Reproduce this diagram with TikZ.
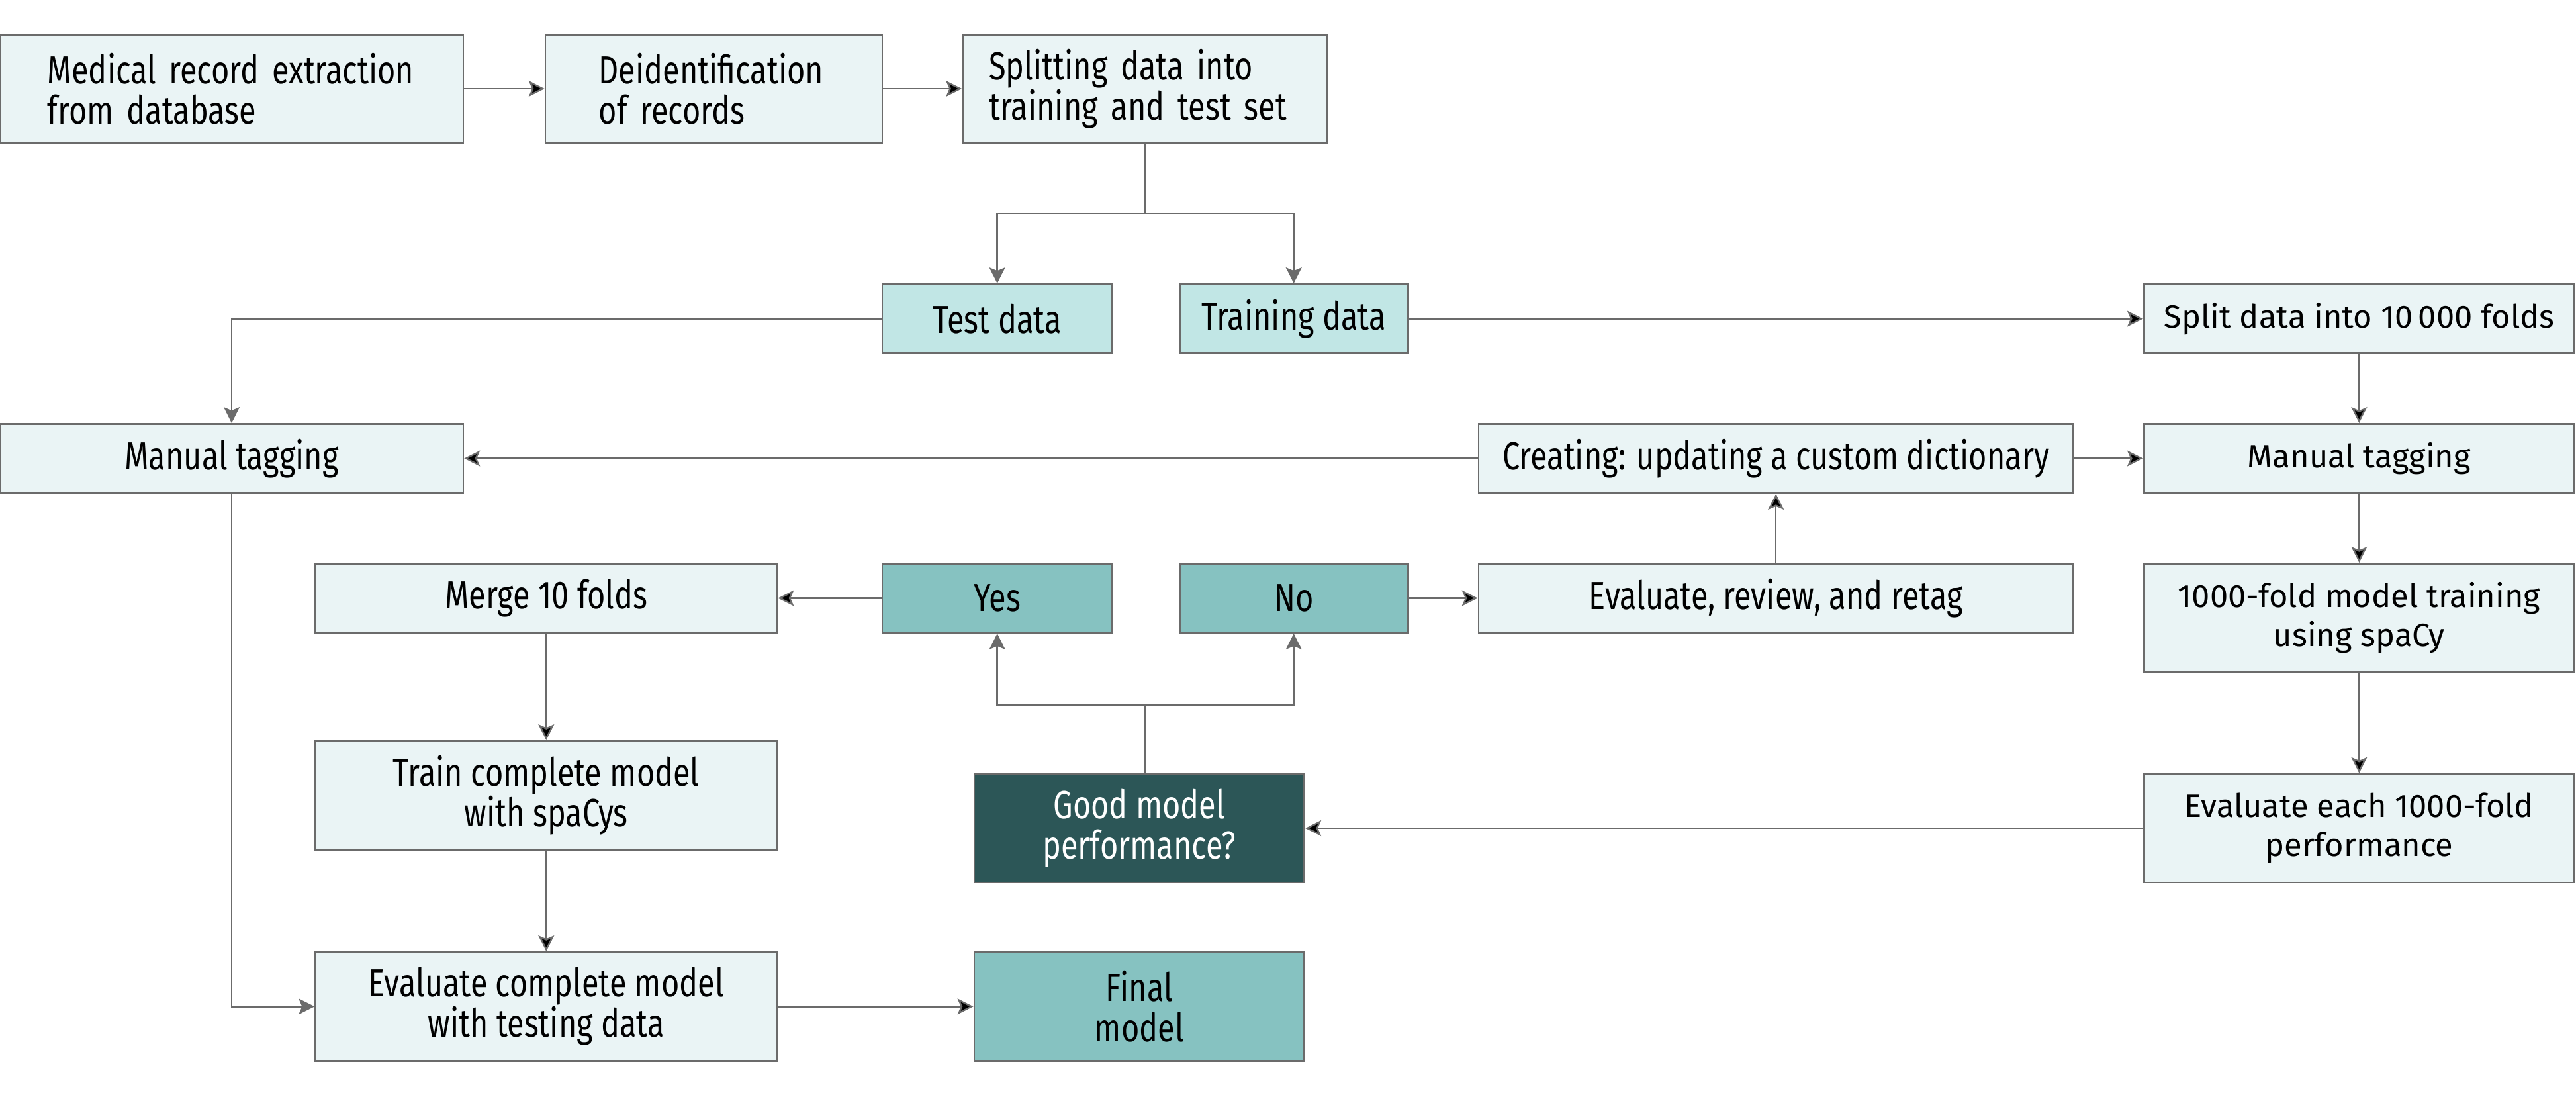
\documentclass[tikz,border=0pt]{standalone}
\usepackage{fontspec}
\setmainfont{Fira Sans}[FakeStretch=0.79]
\newfontfamily\widefont{Fira Sans}
\usetikzlibrary{arrows.meta}
\definecolor{boxlight}{HTML}{EAF4F5}
\definecolor{datafill}{HTML}{C1E6E5}
\definecolor{answerfill}{HTML}{86C2C1}
\definecolor{darkfill}{HTML}{2C5657}
\definecolor{linegray}{HTML}{6B6B6B}
\begin{document}
\begin{tikzpicture}
          \tikzstyle{stepbox}=[rectangle,draw=linegray,line width=0.8pt,fill=boxlight,inner sep=0pt,minimum height=1.05cm,align=center,font=\fontsize{17}{17.5}\selectfont]
          \tikzstyle{topbox}=[stepbox,minimum height=1.65cm,align=left]
          \tikzstyle{rightbox}=[stepbox,minimum width=6.55cm,font=\widefont\fontsize{14}{17}\selectfont]
          \tikzstyle{link}=[draw=linegray,line width=0.7pt,-{Stealth[length=2.4mm,width=2.4mm,inset=0.5mm]}]
          \useasboundingbox (0,0) rectangle (39.2,-16.625);
          \begin{scope}
              % top row
              \node [topbox,text width=5.6cm,inner xsep=0.725cm] (extract) at (3.525,-1.35) {Medical record extraction\\from database};
              \node [topbox,text width=3.5cm,inner xsep=0.8125cm] (deident) at (10.8625,-1.35) {Deidentification\\of records};
              \node [topbox,text width=4.75cm,inner xsep=0.4cm] (splitset) at (17.425,-1.35) {Splitting data into\\training and test set};
              \node [stepbox,fill=datafill,minimum width=3.5cm] (testdata) at (15.175,-4.85) {Test data};
              \node [stepbox,fill=datafill,minimum width=3.475cm] (traindata) at (19.6875,-4.85) {Training data};
              \coordinate (fork1) at (17.425,-3.25);
              % left branch
              \node [stepbox,minimum width=7.05cm] (tagleft) at (3.525,-6.975) {Manual tagging};
              \node [stepbox,minimum width=7.025cm] (merge) at (8.3125,-9.1) {Merge 10 folds};
              \node [stepbox,minimum width=7.025cm,minimum height=1.65cm] (traincomplete) at (8.3125,-12.1) {Train complete model\\with spaCys};
              \node [stepbox,minimum width=7.025cm,minimum height=1.65cm] (evalcomplete) at (8.3125,-15.3125) {Evaluate complete model\\with testing data};
              \node [stepbox,fill=answerfill,minimum width=5.025cm,minimum height=1.65cm] (final) at (17.3375,-15.3125) {Final\\model};
              % decision
              \node [stepbox,fill=answerfill,minimum width=3.5cm] (yes) at (15.175,-9.1) {Yes};
              \node [stepbox,fill=answerfill,minimum width=3.475cm] (no) at (19.6875,-9.1) {No};
              \node [stepbox,fill=darkfill,text=white,minimum width=5.025cm,minimum height=1.65cm] (good) at (17.3375,-12.6) {Good model\\performance?};
              \coordinate (fork2) at (17.425,-10.725);
              \node [stepbox,minimum width=9.05cm] (dictionary) at (27.025,-6.975) {Creating: updating a custom dictionary};
              \node [stepbox,minimum width=9.05cm] (retag) at (27.025,-9.1) {Evaluate, review, and retag};
              % right column
              \node [rightbox] (folds) at (35.9,-4.85) {Split data into 10\,000 folds};
              \node [rightbox] (tagright) at (35.9,-6.975) {Manual tagging};
              \node [rightbox,minimum height=1.65cm] (foldtrain) at (35.9,-9.4) {1000-fold model training\\using spaCy};
              \node [rightbox,minimum height=1.65cm] (foldeval) at (35.9,-12.6) {Evaluate each 1000-fold\\performance};
              % connectors
              \path[link] (extract) edge (deident);
              \path[link] (deident) edge (splitset);
              \path[link] (splitset.south -| fork1) -- (fork1) -| (testdata);
              \path[link] (fork1) -| (traindata);
              \path[link] (traindata) edge (folds);
              \path[link] (testdata) -| (tagleft);
              \path[link] (folds) edge (tagright);
              \path[link] (tagright) edge (foldtrain);
              \path[link] (foldtrain) edge (foldeval);
              \path[link] (foldeval) edge (good);
              \path[link] (good.north -| fork2) -- (fork2) -| (yes);
              \path[link] (fork2) -| (no);
              \path[link] (no) edge (retag);
              \path[link] (retag) edge (dictionary);
              \path[link] (dictionary) edge (tagright);
              \path[link] (dictionary) edge (tagleft);
              \path[link] (yes) edge (merge);
              \path[link] (merge) edge (traincomplete);
              \path[link] (traincomplete) edge (evalcomplete);
              \path[link] (tagleft) |- (evalcomplete);
              \path[link] (evalcomplete) edge (final);
          \end{scope}
\end{tikzpicture}
\end{document}
